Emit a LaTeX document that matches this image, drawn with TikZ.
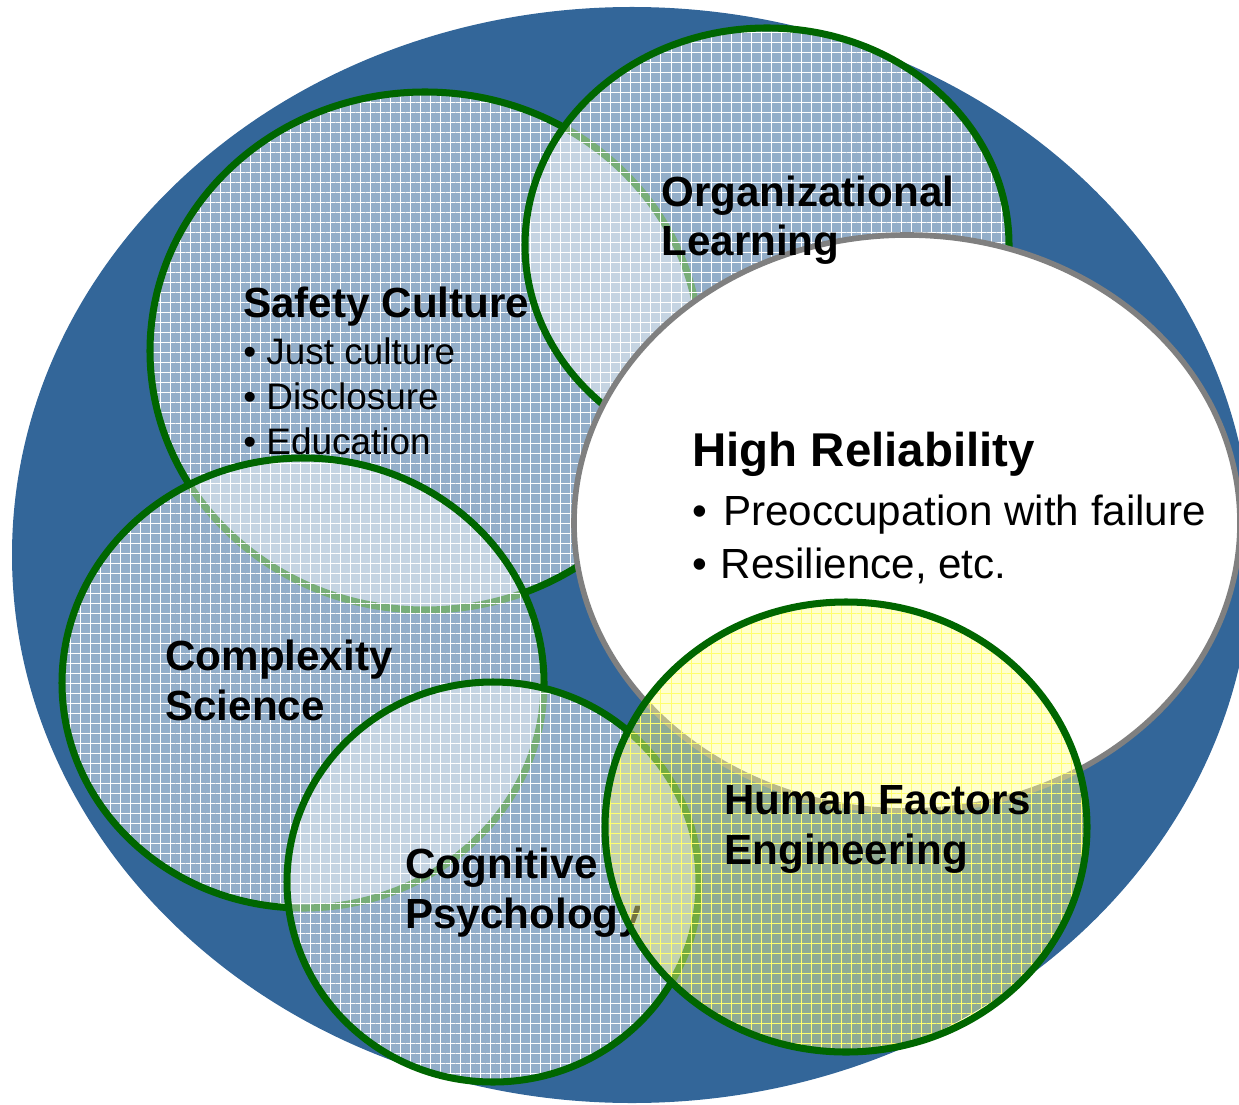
\documentclass[tikz,border=0pt]{standalone}
\usepackage{fontspec}
\setmainfont{Liberation Sans}
\usetikzlibrary{patterns.meta}

\definecolor{bgblue}{RGB}{51,102,153}
\definecolor{ringgreen}{RGB}{0,102,0}
\definecolor{ringgray}{RGB}{128,128,128}
\definecolor{hfyellow}{RGB}{255,255,146}
\definecolor{hfmesh}{RGB}{255,255,110}

\begin{document}
\begin{tikzpicture}[x=0.02cm, y=-0.02cm]
	\tikzset{field/.style={fill=white, fill opacity=0.47}};
	\tikzset{mesh/.style={pattern={Hatch[distance=5.7pt, line width=0.55pt]}, pattern color=white, fill opacity=0.7}};
	\tikzset{ring/.style={draw=ringgreen, line width=4pt}};
	\tikzset{core/.style={fill=white, draw=ringgray, line width=3.2pt}};
	\tikzset{hffield/.style={fill=hfyellow, fill opacity=0.45}};
	\tikzset{hfmesh/.style={pattern={Hatch[distance=5.7pt, line width=0.55pt]}, pattern color=hfmesh, fill opacity=0.65}};
	\tikzset{title/.style={anchor=base west, inner sep=0pt, align=left, font=\bfseries\fontsize{24}{28.3}\selectfont}};
	\tikzset{bullets/.style={anchor=base west, inner sep=0pt, align=left, font=\fontsize{21}{25.5}\selectfont}};
	\tikzset{bigtitle/.style={anchor=base west, inner sep=0pt, align=left, font=\bfseries\fontsize{27}{30}\selectfont}};
	\tikzset{bigbullets/.style={anchor=base west, inner sep=0pt, align=left, font=\fontsize{24}{30}\selectfont}};

	\useasboundingbox (0,0) rectangle (1239,1104);
	\clip (0,0) rectangle (1239,1104);

	% Place shapes
	\fill [bgblue] (632,555) ellipse [x radius=620, y radius=548];

	\fill [field] (425,351) ellipse [x radius=275, y radius=259];
	\fill [mesh] (425,351) ellipse [x radius=275, y radius=259];
	\draw [ring] (425,351) ellipse [x radius=275, y radius=259];

	\fill [field] (767,245) ellipse [x radius=242, y radius=217];
	\fill [mesh] (767,245) ellipse [x radius=242, y radius=217];
	\draw [ring] (767,245) ellipse [x radius=242, y radius=217];

	\fill [field] (303,683) ellipse [x radius=241, y radius=225];
	\fill [mesh] (303,683) ellipse [x radius=241, y radius=225];
	\draw [ring] (303,683) ellipse [x radius=241, y radius=225];

	\fill [field] (493,882) ellipse [x radius=206, y radius=200];
	\fill [mesh] (493,882) ellipse [x radius=206, y radius=200];
	\draw [ring] (493,882) ellipse [x radius=206, y radius=200];

	\draw [core] (907,523) ellipse [x radius=333, y radius=288];

	% Place nodes (base = last line)
	\node [title] (safety) at (243,318) {Safety Culture};
	\node [bullets] (safetylist) at (243,454) {• Just culture\\• Disclosure\\• Education};
	\node [title] (orglearn) at (661,256) {Organizational\\Learning};
	\node [bigtitle] (reliab) at (692,466) {High Reliability};
	\node [bigbullets] (reliablist) at (692,578) {•\hspace{0.38em}Preoccupation with failure\\•\hspace{0.32em}Resilience, etc.};
	\node [title] (complex) at (165,720) {Complexity\\Science};
	\node [title] (cognit) at (405,928) {Cognitive\\Psychology};

	\fill [hffield] (846,827) ellipse [x radius=241, y radius=225];
	\fill [hfmesh] (846,827) ellipse [x radius=241, y radius=225];
	\draw [ring] (846,827) ellipse [x radius=241, y radius=225];

	\node [title] (human) at (724,864) {Human Factors\\Engineering};
\end{tikzpicture}
\end{document}
